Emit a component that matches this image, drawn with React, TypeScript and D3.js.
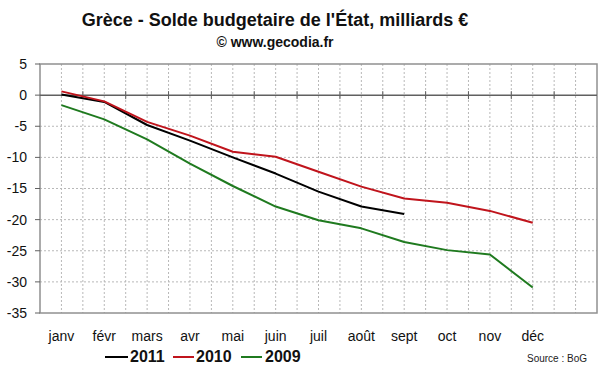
import React from 'react';
import * as d3 from 'd3';

const months = ['janv', 'févr', 'mars', 'avr', 'mai', 'juin', 'juil', 'août', 'sept', 'oct', 'nov', 'déc', ''];
const yTicks = [5, 0, -5, -10, -15, -20, -25, -30, -35];

const s2011 = [0.1, -1.1, -4.8, -7.3, -10.0, -12.6, -15.5, -17.9, -19.1];
const s2010 = [0.6, -1.0, -4.3, -6.5, -9.1, -9.9, -12.3, -14.7, -16.6, -17.3, -18.6, -20.5];
const s2009 = [-1.6, -3.9, -7.1, -11.0, -14.6, -17.9, -20.1, -21.4, -23.6, -24.9, -25.6, -30.9];

const series = [
  { name: '2011', values: s2011, color: '#000000' },
  { name: '2010', values: s2010, color: '#c0141c' },
  { name: '2009', values: s2009, color: '#1f7a1f' },
];

const width = 600;
const height = 372;
const plot = { left: 40, right: 597, top: 64, bottom: 313 };
const font = '"Liberation Sans", Arial, sans-serif';

export default function App() {
  const x = d3.scaleBand<string>()
    .domain(months.map((m, i) => String(i)))
    .range([plot.left, plot.right])
    .paddingInner(0)
    .paddingOuter(0);
  const bw = x.bandwidth();
  const cx = (i: number) => (x(String(i)) || 0) + bw / 2;
  const y = d3.scaleLinear().domain([-35, 5]).range([plot.bottom, plot.top]);

  const line = d3.line<number>()
    .x((_, i) => cx(i))
    .y((d) => y(d));

  const vGrid: number[] = [];
  months.forEach((_, i) => {
    const x0 = x(String(i)) || 0;
    if (i > 0) vGrid.push(x0);
    vGrid.push(x0 + bw / 2);
  });

  const legend = [
    { name: '2011', x1: 105, x2: 128, tx: 130 },
    { name: '2010', x1: 173, x2: 194, tx: 196 },
    { name: '2009', x1: 241, x2: 262, tx: 265 },
  ];

  return (
    <svg width={width} height={height} style={{ position: 'absolute', left: 0, top: 0, background: '#fff' }}>
      <text x={275} y={26} textAnchor="middle" fontFamily={font} fontWeight="bold" fontSize={18} fill="#111">
        Grèce - Solde budgetaire de l'État, milliards €
      </text>
      <text x={275} y={47} textAnchor="middle" fontFamily={font} fontWeight="bold" fontSize={14} fill="#111">
        © www.gecodia.fr
      </text>

      {vGrid.map((gx, i) => (
        <line key={'v' + i} x1={gx} x2={gx} y1={plot.top} y2={plot.bottom} stroke="#b8b8b8" strokeWidth={1} strokeDasharray="2,2" />
      ))}
      {yTicks.filter((t) => t !== 0 && t !== 5 && t !== -35).map((t) => (
        <line key={'h' + t} x1={plot.left} x2={plot.right} y1={y(t)} y2={y(t)} stroke="#b8b8b8" strokeWidth={1} strokeDasharray="2,2" />
      ))}

      <rect x={plot.left} y={plot.top} width={plot.right - plot.left} height={plot.bottom - plot.top} fill="none" stroke="#909090" strokeWidth={1.5} />
      <line x1={plot.left} x2={plot.right} y1={y(0)} y2={y(0)} stroke="#606060" strokeWidth={1.5} />
      {months.map((_, i) => i > 0 && (
        <line key={'t' + i} x1={x(String(i))} x2={x(String(i))} y1={y(0) - 4} y2={y(0) + 4} stroke="#606060" strokeWidth={1} />
      ))}

      {yTicks.map((t) => (
        <g key={'yt' + t}>
          <line x1={plot.left - 5} x2={plot.left} y1={y(t)} y2={y(t)} stroke="#606060" strokeWidth={1} />
          <text x={27} y={y(t)} dy="0.35em" textAnchor="end" fontFamily={font} fontSize={14} fill="#111">{t}</text>
        </g>
      ))}

      {months.map((m, i) => (
        <text key={'m' + i} x={cx(i)} y={341} textAnchor="middle" fontFamily={font} fontSize={14} fill="#111">{m}</text>
      ))}

      {series.map((s) => (
        <path key={s.name} d={line(s.values) || ''} fill="none" stroke={s.color} strokeWidth={2} strokeLinejoin="round" />
      ))}

      {legend.map((l, i) => (
        <g key={'lg' + l.name}>
          <line x1={l.x1} x2={l.x2} y1={357} y2={357} stroke={series[i].color} strokeWidth={2} />
          <text x={l.tx} y={362} fontFamily={font} fontWeight="bold" fontSize={16} fill="#111">{l.name}</text>
        </g>
      ))}

      <text x={587} y={362} textAnchor="end" fontFamily={font} fontSize={10} fill="#222">Source : BoG</text>
    </svg>
  );
}
